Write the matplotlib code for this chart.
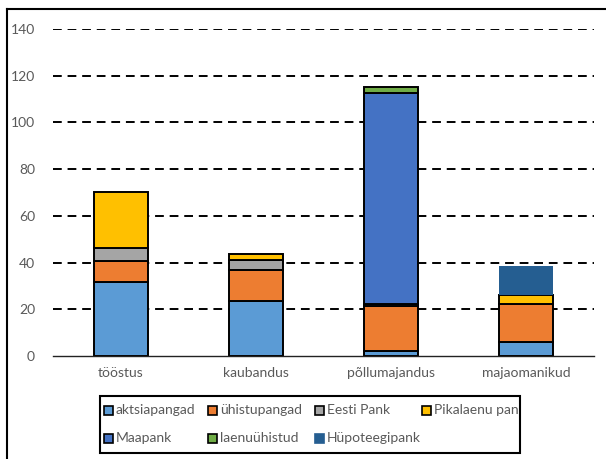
import numpy as np
import matplotlib
matplotlib.use("Agg")
import matplotlib.pyplot as plt
from matplotlib.lines import Line2D
from matplotlib.patches import Rectangle
from matplotlib.transforms import Bbox, TransformedBbox

plt.rcParams['font.family'] = ['Lato', 'DejaVu Sans']

# data
categories = ["tööstus", "kaubandus", "põllumajandus", "majaomanikud"]
series_names = ["aktsiapangad", "ühistupangad", "Eesti Pank", "Pikalaenu pank",
                "Maapank", "laenuühistud", "Hüpoteegipank"]
aktsiapangad = [31.6, 23.4, 2.0, 6.0]
yhistupangad = [9.1, 13.3, 19.5, 16.3]
eesti_pank = [5.6, 4.5, 0.6, 0.0]
pikalaenu_pank = [24.0, 2.3, 0.0, 3.7]
maapank = [0.0, 0.0, 90.3, 0.0]
laenuyhistud = [0.0, 0.0, 2.9, 0.0]
hypoteegipank = [0.0, 0.0, 0.0, 12.5]

colors = ["#5B9BD5", "#ED7D31", "#A5A5A5", "#FFC000", "#4472C4", "#70AD47", "#255E91"]
values = [aktsiapangad, yhistupangad, eesti_pank, pikalaenu_pank,
          maapank, laenuyhistud, hypoteegipank]

txt = "#595959"
W, H = 606, 459

fig = plt.figure(figsize=(W/100, H/100), dpi=100)
ax = fig.add_axes([53/W, 1-356/H, (594-53)/W, (356-29)/H])

x = np.arange(len(categories))
bottom = np.zeros(len(categories))
for name, vals, c in zip(series_names, values, colors):
    vals = np.array(vals)
    mask = vals > 0
    edge = "none" if name == "Hüpoteegipank" else "black"
    ax.bar(x[mask], vals[mask], 0.4, bottom=bottom[mask], color=c,
           edgecolor=edge, linewidth=1.4, zorder=3)
    bottom += vals

ax.set_xlim(-0.5, 3.5)
ax.set_ylim(0, 140)
ax.set_yticks(range(0, 141, 20))
for yv in range(20, 141, 20):
    ax.axhline(yv, color="black", linestyle=(0, (4.5, 3)), linewidth=1.4, zorder=1)
ax.set_xticks(x)
ax.set_xticklabels(categories)
ax.tick_params(length=0, colors=txt, labelsize=10)
ax.tick_params(axis='y', pad=13)
ax.tick_params(axis='x', pad=8)
for s in ["left", "right", "top"]:
    ax.spines[s].set_visible(False)
ax.spines["bottom"].set_color("#222222")
ax.spines["bottom"].set_linewidth(1.0)
ax.spines["bottom"].set_zorder(4)

# legend drawn by hand: 4 fixed-width columns, filled row by row, like the original
def px(xp, yp):
    return xp / W, 1 - yp / H

box = Rectangle(px(100, 453), 420/W, 57/H, transform=fig.transFigure,
                facecolor="white", edgecolor="black", linewidth=1.5)
fig.add_artist(box)
clip = TransformedBbox(Bbox.from_extents(100/W, 1-453/H, 519/W, 1-396/H), fig.transFigure)
col_x = [104, 208, 315, 422]
row_y = [410, 438]
for i, (name, c) in enumerate(zip(series_names, colors)):
    cx = col_x[i % 4]
    cy = row_y[i // 4]
    edge = c if name == "Hüpoteegipank" else "black"
    fig.add_artist(Rectangle(px(cx, cy + 4.5), 9/W, 9/H, transform=fig.transFigure,
                             facecolor=c, edgecolor=edge, linewidth=1.2))
    t = fig.text(*px(cx + 12, cy), name, color=txt, fontsize=10, va="center", ha="left")
    t.set_clip_box(clip)
    t.set_clip_on(True)

# outer chart frame (left and top edges visible)
fig.add_artist(Line2D([7/W, 7/W], [0, 1-9/H], color="black", linewidth=1.5))
fig.add_artist(Line2D([7/W, 1], [1-9/H, 1-9/H], color="black", linewidth=1.5))

fig.savefig("out.png", dpi=100)
